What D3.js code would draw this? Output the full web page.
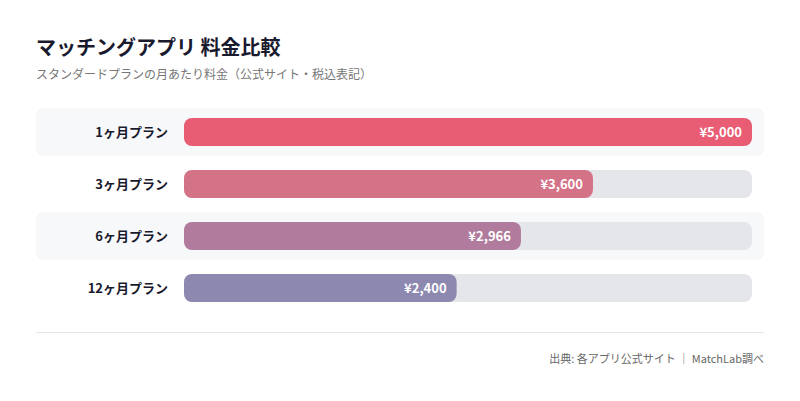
<!DOCTYPE html><html><head><meta charset="utf-8"><script src="https://cdn.jsdelivr.net/npm/d3@7"></script>
<style>body{margin:0;background:#fff}</style></head><body><svg id="c" width="800" height="401"></svg>
<script>
const categories=["1ヶ月プラン","3ヶ月プラン","6ヶ月プラン","12ヶ月プラン"];
const values=[5000,3600,2966,2400];
const colors=["#E85C74","#D47287","#B07B9C","#8C88B0"];
const svg=d3.select("#c");
const F="'Noto Sans CJK JP','Noto Sans',sans-serif";
svg.append("text").attr("x",36).attr("y",55).attr("font-family",F).attr("font-size",20).attr("font-weight",700).attr("fill","#1a1a2e").text("マッチングアプリ 料金比較");
svg.append("text").attr("x",36).attr("y",79).attr("font-family",F).attr("font-size",12).attr("fill","#777").text("スタンダードプランの月あたり料金（公式サイト・税込表記）");
const y=d3.scaleBand().domain(categories).range([106,314]).paddingInner(0);
const x=d3.scaleLinear().domain([0,5000]).range([184,752]);
const g=svg.selectAll("g.row").data(categories).join("g");
g.filter((d,i)=>i%2==0).append("rect").attr("x",36).attr("width",728).attr("y",d=>y(d)+2).attr("height",48).attr("rx",8).attr("fill","#F7F8FA");
g.append("rect").attr("x",184).attr("width",568).attr("y",d=>y(d)+12).attr("height",28).attr("rx",8).attr("fill","#E5E6EA");
g.append("rect").attr("x",184).attr("width",(d,i)=>x(values[i])-184).attr("y",d=>y(d)+12).attr("height",28).attr("rx",8).attr("fill",(d,i)=>colors[i]);
g.append("text").attr("x",168).attr("y",d=>y(d)+31).attr("text-anchor","end").attr("font-family",F).attr("font-size",13).attr("font-weight",700).attr("fill","#1a1a2e").text(d=>d);
g.append("text").attr("x",(d,i)=>x(values[i])-10).attr("y",d=>y(d)+31).attr("text-anchor","end").attr("font-family",F).attr("font-size",13).attr("font-weight",700).attr("fill","#fff").text((d,i)=>"¥"+d3.format(",")(values[i]));
svg.append("line").attr("x1",36).attr("x2",764).attr("y1",332.5).attr("y2",332.5).attr("stroke","#E3E4E8");
svg.append("text").attr("x",764).attr("y",363).attr("text-anchor","end").attr("font-family",F).attr("font-size",11).attr("fill","#666").text("出典: 各アプリ公式サイト ｜ MatchLab調べ");
</script></body></html>
